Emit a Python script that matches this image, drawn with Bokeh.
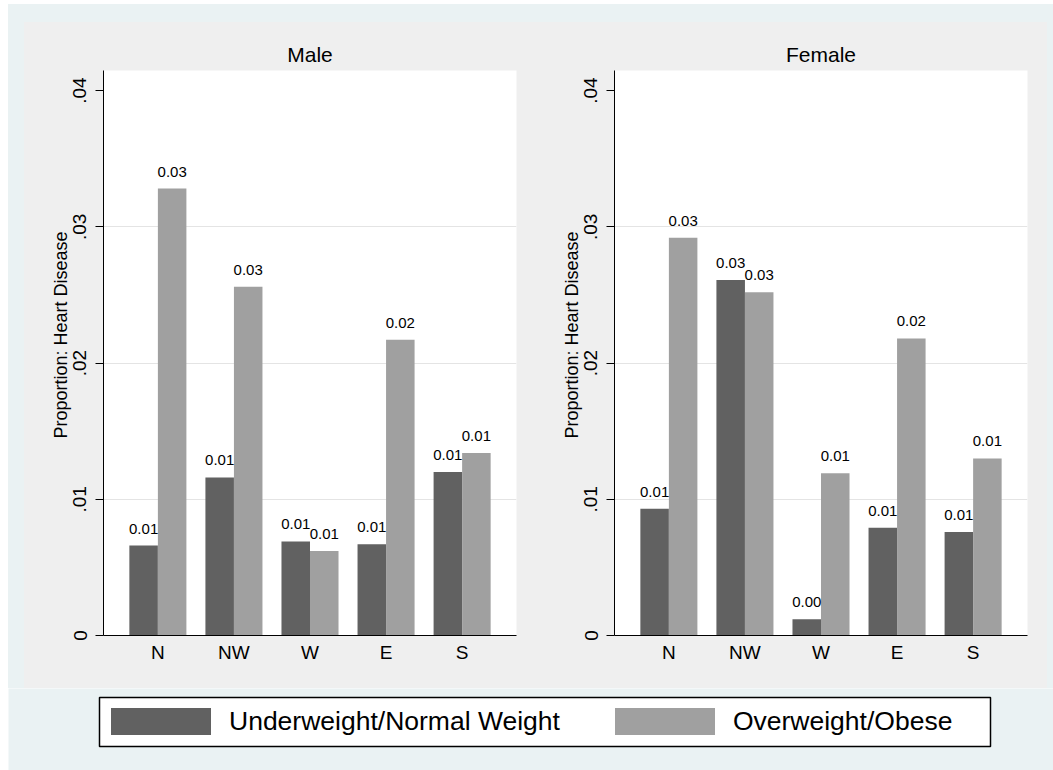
from bokeh.plotting import figure
from bokeh.models import (ColumnDataSource, Range1d, FixedTicker, Title, Legend,
                          LegendItem, BoxAnnotation, Spacer)
from bokeh.layouts import row, column
from bokeh.transform import dodge
from bokeh.core.properties import value
from bokeh.embed import file_html
from bokeh.resources import INLINE

# ---------------- data ----------------
regions = ["N", "NW", "W", "E", "S"]
male_under = [0.0066, 0.0116, 0.0069, 0.0067, 0.0120]
male_over = [0.0328, 0.0256, 0.0062, 0.0217, 0.0134]
female_under = [0.0093, 0.0261, 0.0012, 0.0079, 0.0076]
female_over = [0.0292, 0.0252, 0.0119, 0.0218, 0.0130]
series_labels = ["Underweight/Normal Weight", "Overweight/Obese"]
panel_titles = ["Male", "Female"]
y_title = "Proportion: Heart Disease"
y_ticks = [0, 0.01, 0.02, 0.03, 0.04]
y_tick_labels = ["0", ".01", ".02", ".03", ".04"]
grid_ticks = [0.01, 0.02, 0.03]

# ---------------- style ----------------
BLUE = "#EAF2F3"
PANEL = "#EFEFEF"
DARK = "#616161"
LIGHT = "#A0A0A0"
FONT = "Liberation Sans"
BW = 0.375


def make_source(under, over):
    return ColumnDataSource(dict(
        x=list(range(len(regions))), region=regions,
        under=under, over=over,
        under_lab=[f"{v:.2f}" for v in under],
        over_lab=[f"{v:.2f}" for v in over],
    ))


def panel(title, under, over, width, left_border, right_border):
    src = make_source(under, over)
    p = figure(width=width, height=666, title=title,
               x_range=Range1d(-0.715, 4.715), y_range=Range1d(0, 0.04147),
               output_backend="svg", toolbar_location=None,
               min_border_left=left_border, min_border_right=right_border,
               min_border_top=48, min_border_bottom=53,
               background_fill_color="white", border_fill_color=PANEL,
               outline_line_color=None)
    p.title.align = "center"
    p.title.text_font = FONT
    p.title.text_font_size = "21px"
    p.title.text_font_style = "normal"
    p.title.text_color = "black"
    p.title.standoff = 9

    p.vbar(x=dodge("x", -BW / 2), top="under", width=BW, source=src,
           fill_color=DARK, line_color=None)
    p.vbar(x=dodge("x", BW / 2), top="over", width=BW, source=src,
           fill_color=LIGHT, line_color=None)
    for off, col, lab in ((-BW / 2, "under", "under_lab"), (BW / 2, "over", "over_lab")):
        p.text(x=dodge("x", off), y=col, text=lab, source=src,
               text_align="center", text_baseline="alphabetic", y_offset=-17,
               text_font=value(FONT), text_font_size=value("15px"),
               text_color="black")

    xa = p.xaxis[0]
    xa.ticker = FixedTicker(ticks=list(range(len(regions))))
    xa.major_label_overrides = {i: r for i, r in enumerate(regions)}
    xa.major_tick_line_color = None
    xa.minor_tick_line_color = None
    xa.major_label_text_font = FONT
    xa.major_label_text_font_size = "19px"
    xa.major_label_text_color = "black"
    xa.major_label_standoff = 0
    xa.axis_line_color = "black"

    ya = p.yaxis[0]
    ya.ticker = FixedTicker(ticks=y_ticks)
    ya.major_label_overrides = dict(zip(y_ticks, y_tick_labels))
    ya.major_label_orientation = "vertical"
    ya.major_tick_out = 8
    ya.major_tick_in = 0
    ya.minor_tick_line_color = None
    ya.major_tick_line_color = "black"
    ya.axis_line_color = "black"
    ya.major_label_text_font = FONT
    ya.major_label_text_font_size = "19px"
    ya.major_label_text_color = "black"
    ya.major_label_standoff = 9

    p.xgrid.visible = False
    p.ygrid.ticker = FixedTicker(ticks=grid_ticks)
    p.ygrid.grid_line_color = "#E4E4E4"
    p.ygrid.grid_line_width = 1

    p.add_layout(Title(text=y_title, align="left", offset=197,
                       text_font=FONT, text_font_size="18px",
                       text_font_style="normal", text_color="black",
                       standoff=0), "left")
    return p


male = panel(panel_titles[0], male_under, male_over, 516, 79, 24)
female = panel(panel_titles[1], female_under, female_over, 507, 74, 20)

# ---------------- legend strip ----------------
leg = figure(width=1045, height=82, x_range=Range1d(0, 1045), y_range=Range1d(0, 82),
             x_axis_location=None, y_axis_location=None, min_border=0,
             output_backend="svg", toolbar_location=None,
             background_fill_color=BLUE, border_fill_color=BLUE,
             outline_line_color=None)
leg.grid.visible = False
leg.extra_x_ranges = {"off": Range1d(100, 101)}
lsrc = make_source(male_under, male_over)
r1 = leg.vbar(x="x", top="under", width=BW, source=lsrc, x_range_name="off",
              fill_color=DARK, line_color=None)
r2 = leg.vbar(x="x", top="over", width=BW, source=lsrc, x_range_name="off",
              fill_color=LIGHT, line_color=None)
box = BoxAnnotation(left=91, right=982, bottom=24, top=73,
                    fill_color="white", fill_alpha=1.0,
                    line_color="black", line_alpha=1.0, line_width=1.5,
                    level="underlay")
leg.add_layout(box)
legend = Legend(items=[LegendItem(label=series_labels[0], renderers=[r1]),
                       LegendItem(label=series_labels[1], renderers=[r2])],
                orientation="horizontal", location=(90, 32),
                glyph_width=125, glyph_height=34, label_height=34,
                label_standoff=6, spacing=42, padding=0, margin=0,
                border_line_color=None, background_fill_alpha=0.0,
                label_text_font=FONT, label_text_font_size="26.5px",
                label_text_color="black")
leg.add_layout(legend, "center")

WHITE = "#FFFFFF"
layout = row(
    Spacer(width=8, height=770, styles={"background-color": WHITE}),
    column(
        Spacer(width=1045, height=4, styles={"background-color": WHITE}),
        Spacer(width=1045, height=18, styles={"background-color": BLUE}),
        row(Spacer(width=16, height=666, styles={"background-color": BLUE}),
            male, female,
            Spacer(width=6, height=666, styles={"background-color": BLUE}),
            styles={"background-color": PANEL}),
        leg,
    ),
)

open("out.html", "w").write(file_html(layout, INLINE))
